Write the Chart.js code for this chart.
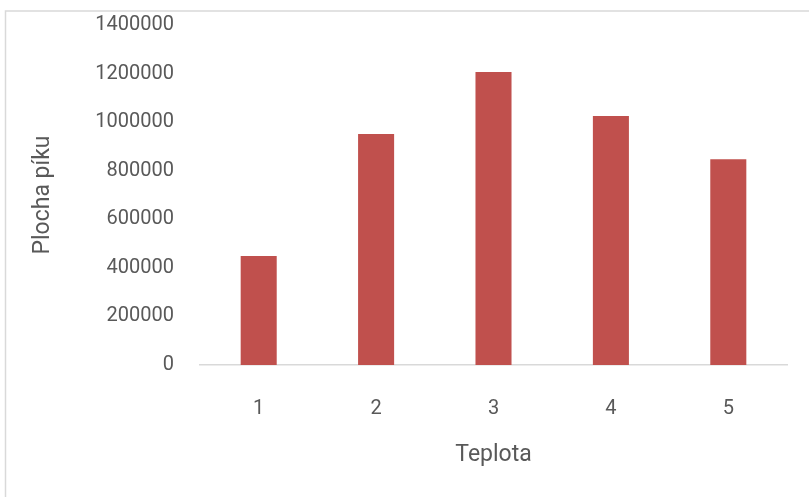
<!DOCTYPE html>
<html>
<head>
<meta charset="utf-8">
<script src="https://cdn.jsdelivr.net/npm/chart.js@4/dist/chart.umd.min.js"></script>
<style>
  html, body { margin: 0; padding: 0; background: #ffffff; }
  #wrap { width: 809px; height: 497px; position: relative; }
</style>
</head>
<body>
<div id="wrap"><canvas id="c" width="809" height="497"></canvas></div>
<script>
// Peak area for each temperature step
const categories = ['1', '2', '3', '4', '5'];
const peakArea = [449000, 951000, 1206000, 1025000, 847000];
const yTicks = [0, 200000, 400000, 600000, 800000, 1000000, 1200000, 1400000];

const textColor = '#595959';
const fontFamily = 'Roboto, "Open Sans", sans-serif';

// Light frame around the chart object (open at the bottom and right)
const framePlugin = {
  id: 'frame',
  beforeDraw(chart) {
    const ctx = chart.ctx;
    ctx.save();
    ctx.strokeStyle = '#d9d9d9';
    ctx.lineWidth = 1.5;
    ctx.beginPath();
    ctx.moveTo(5.5, 497);
    ctx.lineTo(5.5, 11);
    ctx.lineTo(809, 11);
    ctx.stroke();
    ctx.restore();
  }
};

new Chart(document.getElementById('c'), {
  type: 'bar',
  data: {
    labels: categories,
    datasets: [{
      data: peakArea,
      backgroundColor: '#c0504d',
      borderWidth: 0,
      barPercentage: 0.307,
      categoryPercentage: 1.0
    }]
  },
  options: {
    responsive: false,
    animation: false,
    devicePixelRatio: 1,
    layout: { padding: { left: 5, right: 22, top: 25, bottom: 0 } },
    plugins: {
      legend: { display: false },
      tooltip: { enabled: false }
    },
    scales: {
      x: {
        grid: { display: false, drawTicks: false },
        border: { display: true, color: '#d9d9d9', width: 1.5 },
        ticks: {
          color: textColor,
          font: { family: fontFamily, size: 20 },
          padding: 32
        },
        title: {
          display: true,
          text: 'Teplota',
          color: textColor,
          font: { family: fontFamily, size: 23 },
          padding: { top: 0, bottom: 28 }
        },
        afterFit(scale) { scale.height = 132; }
      },
      y: {
        min: 0,
        max: 1400000,
        afterBuildTicks(scale) { scale.ticks = yTicks.map(v => ({ value: v })); },
        grid: { display: false, drawTicks: false },
        border: { display: false },
        ticks: {
          color: textColor,
          font: { family: fontFamily, size: 20 },
          padding: 26,
          callback: v => String(v)
        },
        title: {
          display: true,
          text: 'Plocha píku',
          color: textColor,
          font: { family: fontFamily, size: 23 },
          padding: { top: 24, bottom: 0 }
        },
        afterFit(scale) {
          scale.width = 195;
          scale.paddingTop = 0;
          scale.paddingBottom = 0;
        }
      }
    }
  },
  plugins: [framePlugin]
});
</script>
</body>
</html>
